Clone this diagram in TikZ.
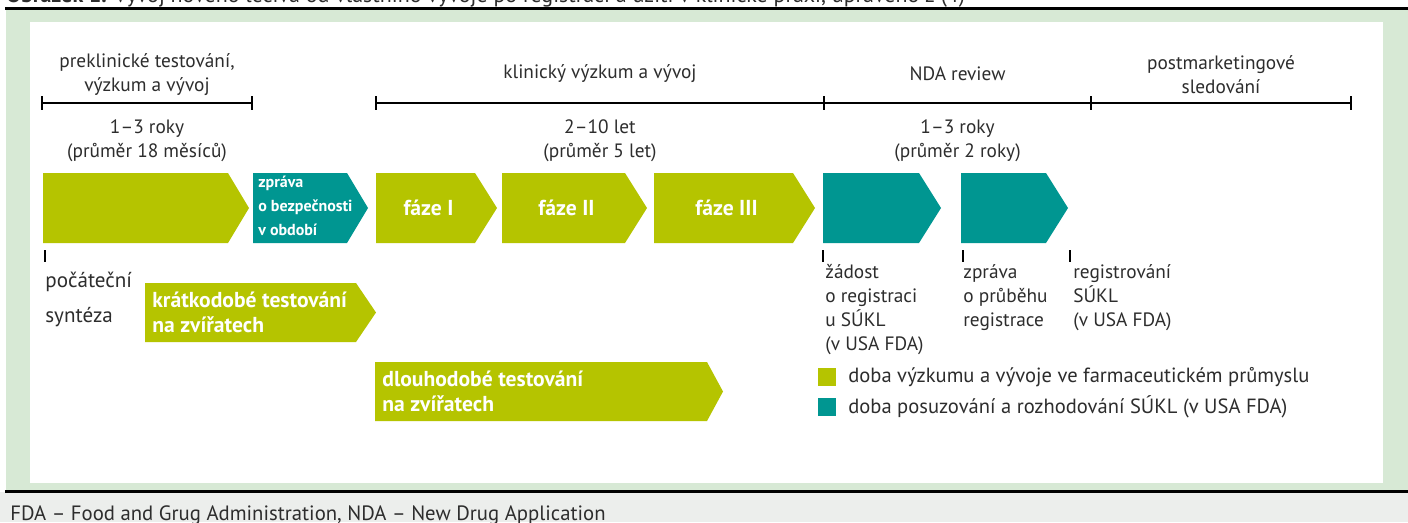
\documentclass[tikz,border=0pt]{standalone}
\usepackage{fontspec}
\setmainfont{PT Sans}
\usetikzlibrary{calc}

\definecolor{lime}{RGB}{181,196,0}
\definecolor{petrol}{RGB}{0,150,145}
\definecolor{bgreen}{RGB}{215,233,213}
\definecolor{fgray}{RGB}{236,238,236}
\definecolor{ink}{RGB}{45,45,45}

\tikzset{
  lbl/.style={font=\fontsize{11}{13.6}\selectfont, text=ink, inner sep=0pt, align=center},
  lbll/.style={lbl, align=left, anchor=north west},
  wlbl/.style={font=\fontsize{12.3}{14}\selectfont\bfseries, text=white, inner sep=0pt, align=left, anchor=west},
  wsmall/.style={font=\fontsize{9.1}{13.6}\selectfont\bfseries, text=white, inner sep=0pt, align=left, anchor=west},
  bar/.style={line width=1.5pt, black},
}

\begin{document}
\begin{tikzpicture}[x=0.02cm,y=-0.02cm]
\useasboundingbox (0,0) rectangle (1408,522);

% ramecek
\fill[fgray] (0,492) rectangle (1408,522);
\fill[bgreen] (6,10) rectangle (1408,490);
\fill[white] (30,22) rectangle (1383,483);
\node[anchor=base west, inner sep=0pt, font=\fontsize{12.5}{14}\selectfont, text=ink] (capt) at (6,2)
  {\textbf{Obrázek 1.} Vývoj nového léčiva od vlastního vývoje po registraci a užití v klinické praxi, upraveno z (4)};
\draw[line width=1.7pt] (5,8) -- (1408,8);
\draw[line width=1.7pt] (5,491) -- (1408,491);
\node[anchor=base west, inner sep=0pt, font=\fontsize{11.8}{13}\selectfont, text=ink] (foot) at (10,520)
  {FDA – Food and Grug Administration, NDA – New Drug Application};

% casova osa
\coordinate (p0) at (42,103);
\coordinate (p1) at (252,103);
\coordinate (k0) at (376,103);
\coordinate (k1) at (824,103);
\coordinate (k2) at (1091,103);
\coordinate (k3) at (1351,103);
\draw[bar] (p0) -- (p1);
\draw[bar] (k0) -- (k3);
\foreach \c in {p0,p1,k0,k1,k2,k3}
  \draw[bar] ($(\c)+(0,-7)$) -- ($(\c)+(0,7)$);

\node[lbl] (preh) at ($(p0)!0.5!(p1)+(0,-28)$) {preklinické testování,\\výzkum a vývoj};
\node[lbl] (klh) at ($(k0)!0.5!(k1)+(0,-29)$) {klinický výzkum a vývoj};
\node[lbl] (ndah) at ($(k1)!0.5!(k2)+(0,-29)$) {NDA review};
\node[lbl] (posth) at ($(k2)!0.5!(k3)+(0,-28)$) {postmarketingové\\sledování};

\node[lbl] (pred) at ($(p0)!0.5!(p1)+(0,38)$) {1–3 roky\\(průměr 18 měsíců)};
\node[lbl] (kld) at ($(k0)!0.5!(k1)+(0,38)$) {2–10 let\\(průměr 5 let)};
\node[lbl] (ndad) at ($(k1)!0.5!(k2)+(0,38)$) {1–3 roky\\(průměr 2 roky)};

% sipky: zacatek/konec tela/spicka/horni/dolni/barva/jmeno
\foreach \a/\b/\c/\t/\u/\col/\n in {
  43/228/249/173/243/lime/pre,
  253/347/368/173/243/petrol/psur,
  376/475/497/173/243/lime/fa,
  502/625/647/173/243/lime/fb,
  654/793/815/173/243/lime/fc,
  823/919/941/173/243/petrol/nda,
  961/1046/1068/173/243/petrol/rep,
  145/356/376/283/342/lime/kr,
  375/707/723/362/421/lime/dl}{
  \fill[\col] (\a,\t) -- (\b,\t) -- (\c,{(\t+\u)/2}) -- (\b,\u) -- (\a,\u) -- cycle;
  \coordinate (\n) at ({(\a+\b)/2+3},{(\t+\u)/2});
  \coordinate (\n w) at (\a,{(\t+\u)/2});
}

\node[wsmall] (tpsur) at ($(psurw)+(5,-2)$) {zpráva\\o bezpečnosti\\v období};
\node[wlbl, anchor=center] (tfa) at (fa) {fáze I};
\node[wlbl, anchor=center] (tfb) at (fb) {fáze II};
\node[wlbl, anchor=center] (tfc) at (fc) {fáze III};
\node[wlbl] (tkr) at ($(krw)+(7,0)$) {krátkodobé testování\\na zvířatech};
\node[wlbl] (tdl) at ($(dlw)+(7,0)$) {dlouhodobé testování\\na zvířatech};

% znacky pod sipkami
\coordinate (m1) at (45,250);
\coordinate (m2) at (823,250);
\coordinate (m3) at (963,250);
\coordinate (m4) at (1070,250);
\foreach \m in {m1,m2,m3,m4}
  \draw[line width=1.2pt] (\m) -- ($(\m)+(0,12)$);

\node[lbll, font=\fontsize{12}{19.8}\selectfont] (tsyn) at ($(m1)+(0,22)$) {počáteční\\syntéza};
\node[lbll] (tzad) at ($(m2)+(2,14)$) {žádost\\o registraci\\u SÚKL\\(v USA FDA)};
\node[lbll] (tzpr) at ($(m3)+(0,14)$) {zpráva\\o průběhu\\registrace};
\node[lbll] (treg) at ($(m4)+(3,14)$) {registrování\\SÚKL\\(v USA FDA)};

% legenda
\fill[lime] (818,368) rectangle (836,386);
\fill[petrol] (818,398) rectangle (836,416);
\node[lbl, anchor=west, font=\fontsize{11.7}{13}\selectfont] (leg1) at (848,377) {doba výzkumu a vývoje ve farmaceutickém průmyslu};
\node[lbl, anchor=west, font=\fontsize{11.7}{13}\selectfont] (leg2) at (848,407) {doba posuzování a rozhodování SÚKL (v USA FDA)};

\end{tikzpicture}
\end{document}
